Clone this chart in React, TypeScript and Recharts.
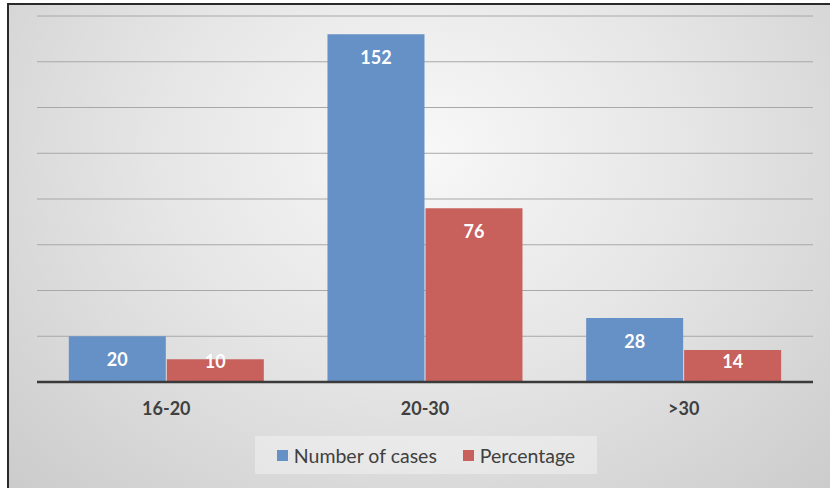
import { BarChart, Bar, XAxis, YAxis, CartesianGrid, Legend, LabelList } from "recharts";

const categories = ["16-20", "20-30", ">30"];
const numberOfCases = [20, 152, 28];
const percentage = [10, 76, 14];
const yTicks = [0, 20, 40, 60, 80, 100, 120, 140, 160];

const BLUE = "#6591c7";
const RED = "#c8605c";
const FONT = "Lato, 'Open Sans', sans-serif";

const data = categories.map((name, i) => ({
  name,
  cases: numberOfCases[i],
  pct: percentage[i],
}));

function BarLabel(props: any) {
  const { x, y, width, height, value } = props;
  const base = y + height;
  const cy = Math.min(y + 23, base - 21);
  return (
    <text
      x={x + width / 2}
      y={cy}
      fill="#fff"
      fontSize={18}
      fontWeight={700}
      fontFamily={FONT}
      textAnchor="middle"
      dominantBaseline="central"
    >
      {value}
    </text>
  );
}

function LegendBox() {
  const items = [
    { label: "Number of cases", color: BLUE },
    { label: "Percentage", color: RED },
  ];
  return (
    <div
      style={{
        width: 342,
        height: 38,
        background: "rgba(255,255,255,0.35)",
        display: "flex",
        alignItems: "center",
        justifyContent: "center",
        gap: 26,
        fontFamily: FONT,
        fontSize: 19.5,
        color: "#404040",
      }}
    >
      {items.map((it) => (
        <div key={it.label} style={{ display: "flex", alignItems: "center" }}>
          <span style={{ width: 11, height: 11, background: it.color, marginRight: 6, display: "inline-block" }} />
          <span>{it.label}</span>
        </div>
      ))}
    </div>
  );
}

export default function App() {
  return (
    <div style={{ position: "absolute", left: 0, top: 0, width: 830, height: 488, overflow: "hidden" }}>
      <div
        style={{
          position: "absolute",
          left: 7,
          top: 3,
          width: 830,
          height: 488,
          borderLeft: "2px solid #2a2a2a",
          borderTop: "2px solid #2a2a2a",
          background: "radial-gradient(ellipse at 50% 30%, #f8f8f8 0%, #e6e6e6 45%, #cbcbcb 100%)",
        }}
      />
      <div style={{ position: "absolute", left: 0, top: 0 }}>
        <BarChart
          width={830}
          height={488}
          data={data}
          margin={{ top: 16, right: 17, left: 37, bottom: 76 }}
          barCategoryGap="12.3%"
          barGap={1}
        >
          <CartesianGrid vertical={false} stroke="#a8a8a8" strokeWidth={1} />
          <YAxis hide domain={[0, 160]} ticks={yTicks} />
          <XAxis
            dataKey="name"
            height={30}
            axisLine={{ stroke: "#3a3a3a", strokeWidth: 2.5 }}
            tickLine={false}
            tickMargin={14}
            tick={{ fill: "#404040", fontSize: 18, fontWeight: 700, fontFamily: FONT }}
          />
          <Legend
            verticalAlign="middle"
            align="center"
            wrapperStyle={{ top: 436, left: 255, width: 342, height: 38 }}
            content={() => <LegendBox />}
          />
          <Bar dataKey="cases" name="Number of cases" fill={BLUE} isAnimationActive={false}>
            <LabelList dataKey="cases" content={BarLabel} />
          </Bar>
          <Bar dataKey="pct" name="Percentage" fill={RED} isAnimationActive={false}>
            <LabelList dataKey="pct" content={BarLabel} />
          </Bar>
        </BarChart>
      </div>
    </div>
  );
}
